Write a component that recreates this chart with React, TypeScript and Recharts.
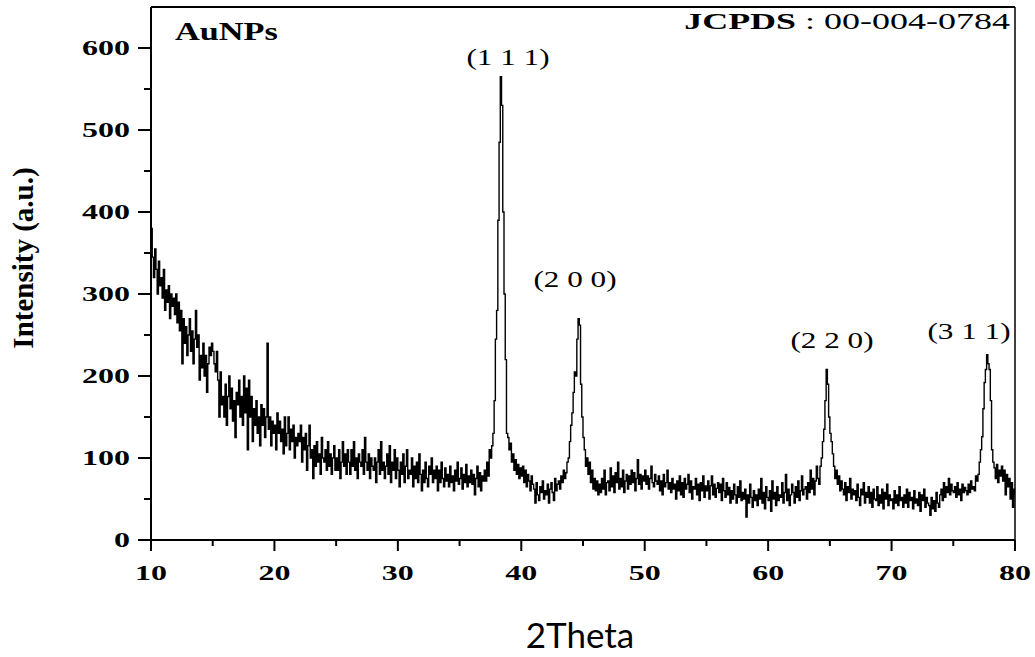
import React from 'react';
import { LineChart, Line, XAxis, YAxis, ReferenceLine } from 'recharts';

// 2θ sampling of the pattern
const angleStart = 10;
const angleStep = 0.1;

// Intensity (a.u.), one row per degree, ten samples per row
const seg10 = [
  380, 345, 320, 355, 330, 300, 340, 310, 320, 295,
  330, 280, 305, 290, 310, 270, 300, 285, 295, 275,
  300, 265, 290, 255, 280, 215, 270, 240, 260, 225,
  250, 270, 230, 255, 215, 245, 280, 235, 250, 195,
  225, 210, 240, 200, 225, 180, 215, 235, 225, 240,
  230, 215, 205, 230, 195, 150, 205, 165, 175, 150,
  190, 140, 175, 200, 160, 185, 145, 170, 125, 180,
  165, 195, 150, 175, 140, 200, 155, 185, 110, 195,
  150, 175, 120, 160, 140, 170, 130, 150, 115, 165,
  140, 160, 125, 150, 240, 135, 150, 115, 145, 130,
];
const seg20 = [
  140, 110, 155, 130, 145, 120, 135, 105, 150, 115,
  130, 150, 110, 135, 120, 140, 100, 125, 115, 130,
  120, 140, 95, 125, 110, 130, 85, 115, 140, 100,
  110, 75, 115, 90, 120, 95, 105, 80, 125, 100,
  95, 110, 85, 120, 90, 105, 80, 100, 115, 85,
  100, 85, 110, 75, 95, 120, 90, 105, 80, 110,
  95, 80, 110, 90, 120, 85, 100, 75, 105, 95,
  90, 110, 80, 125, 95, 85, 105, 75, 100, 90,
  85, 100, 70, 95, 110, 80, 120, 85, 95, 75,
  90, 105, 80, 115, 70, 95, 85, 110, 75, 100,
];
const seg30 = [
  85, 65, 95, 80, 105, 70, 90, 110, 75, 85,
  80, 100, 65, 90, 75, 95, 70, 105, 80, 60,
  85, 70, 95, 75, 65, 90, 80, 100, 70, 85,
  75, 90, 60, 85, 70, 95, 75, 65, 88, 72,
  80, 65, 90, 70, 78, 60, 85, 72, 95, 68,
  75, 88, 62, 80, 70, 92, 65, 78, 70, 85,
  68, 80, 55, 75, 90, 65, 82, 60, 78, 72,
  85, 72, 95, 78, 110, 100, 115, 130, 170, 245,
  280, 390, 485, 565, 530, 400, 300, 220, 130, 125,
  110, 118, 95, 105, 85, 98, 80, 92, 75, 88,
];
const seg40 = [
  78, 90, 70, 85, 65, 80, 72, 60, 78, 68,
  62, 45, 70, 55, 48, 65, 58, 72, 50, 60,
  55, 68, 45, 62, 70, 58, 48, 75, 60, 68,
  72, 62, 78, 70, 85, 75, 82, 95, 100, 120,
  140, 155, 180, 205, 200, 245, 270, 262, 190, 150,
  125, 110, 90, 100, 80, 95, 70, 85, 62, 75,
  60, 72, 55, 68, 58, 75, 62, 85, 55, 70,
  72, 60, 88, 65, 78, 58, 82, 70, 95, 62,
  75, 65, 85, 58, 72, 80, 62, 78, 68, 85,
  70, 82, 60, 75, 98, 68, 80, 62, 78, 72,
];
const seg50 = [
  85, 68, 78, 62, 75, 90, 70, 65, 80, 72,
  68, 78, 60, 72, 55, 80, 65, 70, 85, 62,
  70, 58, 75, 62, 68, 50, 72, 60, 78, 55,
  70, 52, 75, 62, 68, 80, 58, 72, 50, 65,
  62, 75, 55, 68, 48, 70, 60, 78, 52, 66,
  60, 72, 50, 66, 78, 55, 68, 52, 63, 70,
  58, 68, 48, 75, 60, 52, 70, 55, 64, 45,
  60, 50, 68, 55, 45, 65, 52, 72, 48, 58,
  50, 62, 28, 55, 45, 68, 52, 40, 60, 48,
  55, 42, 62, 50, 75, 45, 58, 38, 65, 52,
];
const seg60 = [
  48, 60, 35, 72, 50, 58, 42, 65, 48, 55,
  52, 70, 45, 58, 80, 48, 62, 42, 55, 68,
  58, 45, 65, 52, 72, 48, 60, 78, 55, 62,
  65, 50, 70, 58, 85, 62, 75, 55, 72, 90,
  75, 68, 90, 100, 120, 135, 170, 208, 190, 150,
  130, 120, 105, 90, 75, 85, 68, 78, 60, 72,
  62, 55, 70, 48, 65, 58, 75, 50, 62, 55,
  60, 48, 68, 52, 42, 62, 55, 70, 45, 58,
  52, 65, 45, 58, 40, 62, 50, 48, 65, 42,
  55, 45, 62, 38, 58, 50, 68, 42, 55, 48,
];
const seg70 = [
  50, 38, 60, 45, 55, 42, 65, 48, 52, 40,
  55, 45, 62, 40, 58, 48, 52, 38, 60, 45,
  50, 42, 58, 35, 55, 48, 62, 40, 52, 45,
  42, 30, 52, 38, 48, 35, 58, 45, 40, 55,
  62, 48, 70, 52, 65, 58, 75, 55, 68, 60,
  58, 65, 52, 70, 55, 62, 48, 68, 58, 64,
  60, 55, 68, 58, 72, 62, 65, 60, 78, 72,
  80, 95, 110, 126, 160, 192, 208, 226, 215, 208,
  170, 110, 95, 88, 75, 92, 70, 85, 78, 90,
  72, 85, 55, 80, 65, 75, 50, 70, 40, 62,
];
const seg80 = [55];

const intensity = [...seg10, ...seg20, ...seg30, ...seg40, ...seg50, ...seg60, ...seg70, ...seg80];
const data = intensity.map((v, i) => ({
  theta: Math.round((angleStart + i * angleStep) * 10) / 10,
  counts: v,
}));

const xTicks = [10, 15, 20, 25, 30, 35, 40, 45, 50, 55, 60, 65, 70, 75, 80];
const yTicks = [0, 50, 100, 150, 200, 250, 300, 350, 400, 450, 500, 550, 600];

const peakLabels = [
  { text: '(1 1 1)', cx: 508, y: 65 },
  { text: '(2 0 0)', cx: 575, y: 287 },
  { text: '(2 2 0)', cx: 832, y: 348 },
  { text: '(3 1 1)', cx: 969, y: 339 },
];

const SERIF = '"Liberation Serif", "Times New Roman", serif';

const XTick = (props: any) => {
  const { x, y, payload } = props;
  const major = payload.value % 10 === 0;
  return (
    <g>
      <line x1={x} x2={x} y1={y} y2={y + (major ? 11 : 6)} stroke="#000" strokeWidth={2} />
      {major && (
        <text
          transform={`translate(${x},${y + 40}) scale(1.6,1)`}
          textAnchor="middle"
          fontFamily={SERIF}
          fontWeight="bold"
          fontSize={20}
          fill="#000"
        >
          {payload.value}
        </text>
      )}
    </g>
  );
};

const YTick = (props: any) => {
  const { x, y, payload } = props;
  const major = payload.value % 100 === 0;
  return (
    <g>
      <line x1={x - (major ? 13 : 7)} x2={x} y1={y} y2={y} stroke="#000" strokeWidth={2} />
      {major && (
        <text
          transform={`translate(${x - 21},${y + 7}) scale(1.6,1)`}
          textAnchor="end"
          fontFamily={SERIF}
          fontWeight="bold"
          fontSize={20}
          fill="#000"
        >
          {payload.value}
        </text>
      )}
    </g>
  );
};

export default function App() {
  return (
    <div style={{ position: 'absolute', left: 0, top: 0, width: 1035, height: 657, background: '#fff' }}>
      <LineChart width={1035} height={657} data={data} margin={{ top: 7, right: 20, bottom: 57, left: 0 }}>
        <XAxis
          dataKey="theta"
          type="number"
          domain={[10, 80]}
          ticks={xTicks}
          interval={0}
          tickSize={0}
          tickMargin={0}
          tickLine={false}
          tick={XTick}
          height={60}
          axisLine={{ stroke: '#000', strokeWidth: 2 }}
          allowDataOverflow
        />
        <YAxis
          type="number"
          domain={[0, 650]}
          ticks={yTicks}
          interval={0}
          tickSize={0}
          tickMargin={0}
          tickLine={false}
          tick={YTick}
          width={151}
          axisLine={{ stroke: '#000', strokeWidth: 2 }}
          allowDataOverflow
        />
        <ReferenceLine y={650} stroke="#000" strokeWidth={2} />
        <ReferenceLine x={80} stroke="#000" strokeWidth={1.5} />
        <Line
          type="stepAfter"
          dataKey="counts"
          stroke="#000"
          strokeWidth={1.4}
          dot={false}
          isAnimationActive={false}
        />
      </LineChart>
      <svg
        width={1035}
        height={657}
        style={{ position: 'absolute', left: 0, top: 0, pointerEvents: 'none' }}
      >
        <text
          transform="translate(33,258) rotate(-90)"
          textAnchor="middle"
          fontFamily={SERIF}
          fontWeight="bold"
          fontSize={29}
          fill="#000"
        >
          Intensity (a.u.)
        </text>
        <text
          transform="translate(175,40) scale(1.37,1)"
          textAnchor="start"
          fontFamily={SERIF}
          fontWeight="bold"
          fontSize={25}
          fill="#000"
        >
          AuNPs
        </text>
        <text
          transform="translate(1010,29) scale(1.5,1)"
          textAnchor="end"
          fontFamily={SERIF}
          fontSize={24}
          fill="#000"
        >
          <tspan fontWeight="bold">JCPDS</tspan>
          <tspan> : 00-004-0784</tspan>
        </text>
        {peakLabels.map((p) => (
          <text
            key={p.text}
            transform={`translate(${p.cx},${p.y}) scale(1.3,1)`}
            textAnchor="middle"
            fontFamily={SERIF}
            fontSize={24}
            fill="#000"
          >
            {p.text}
          </text>
        ))}
        <text x={580} y={648} textAnchor="middle" fontFamily="Lato, 'Open Sans', sans-serif" fontSize={35} fill="#000">
          2Theta
        </text>
      </svg>
    </div>
  );
}
